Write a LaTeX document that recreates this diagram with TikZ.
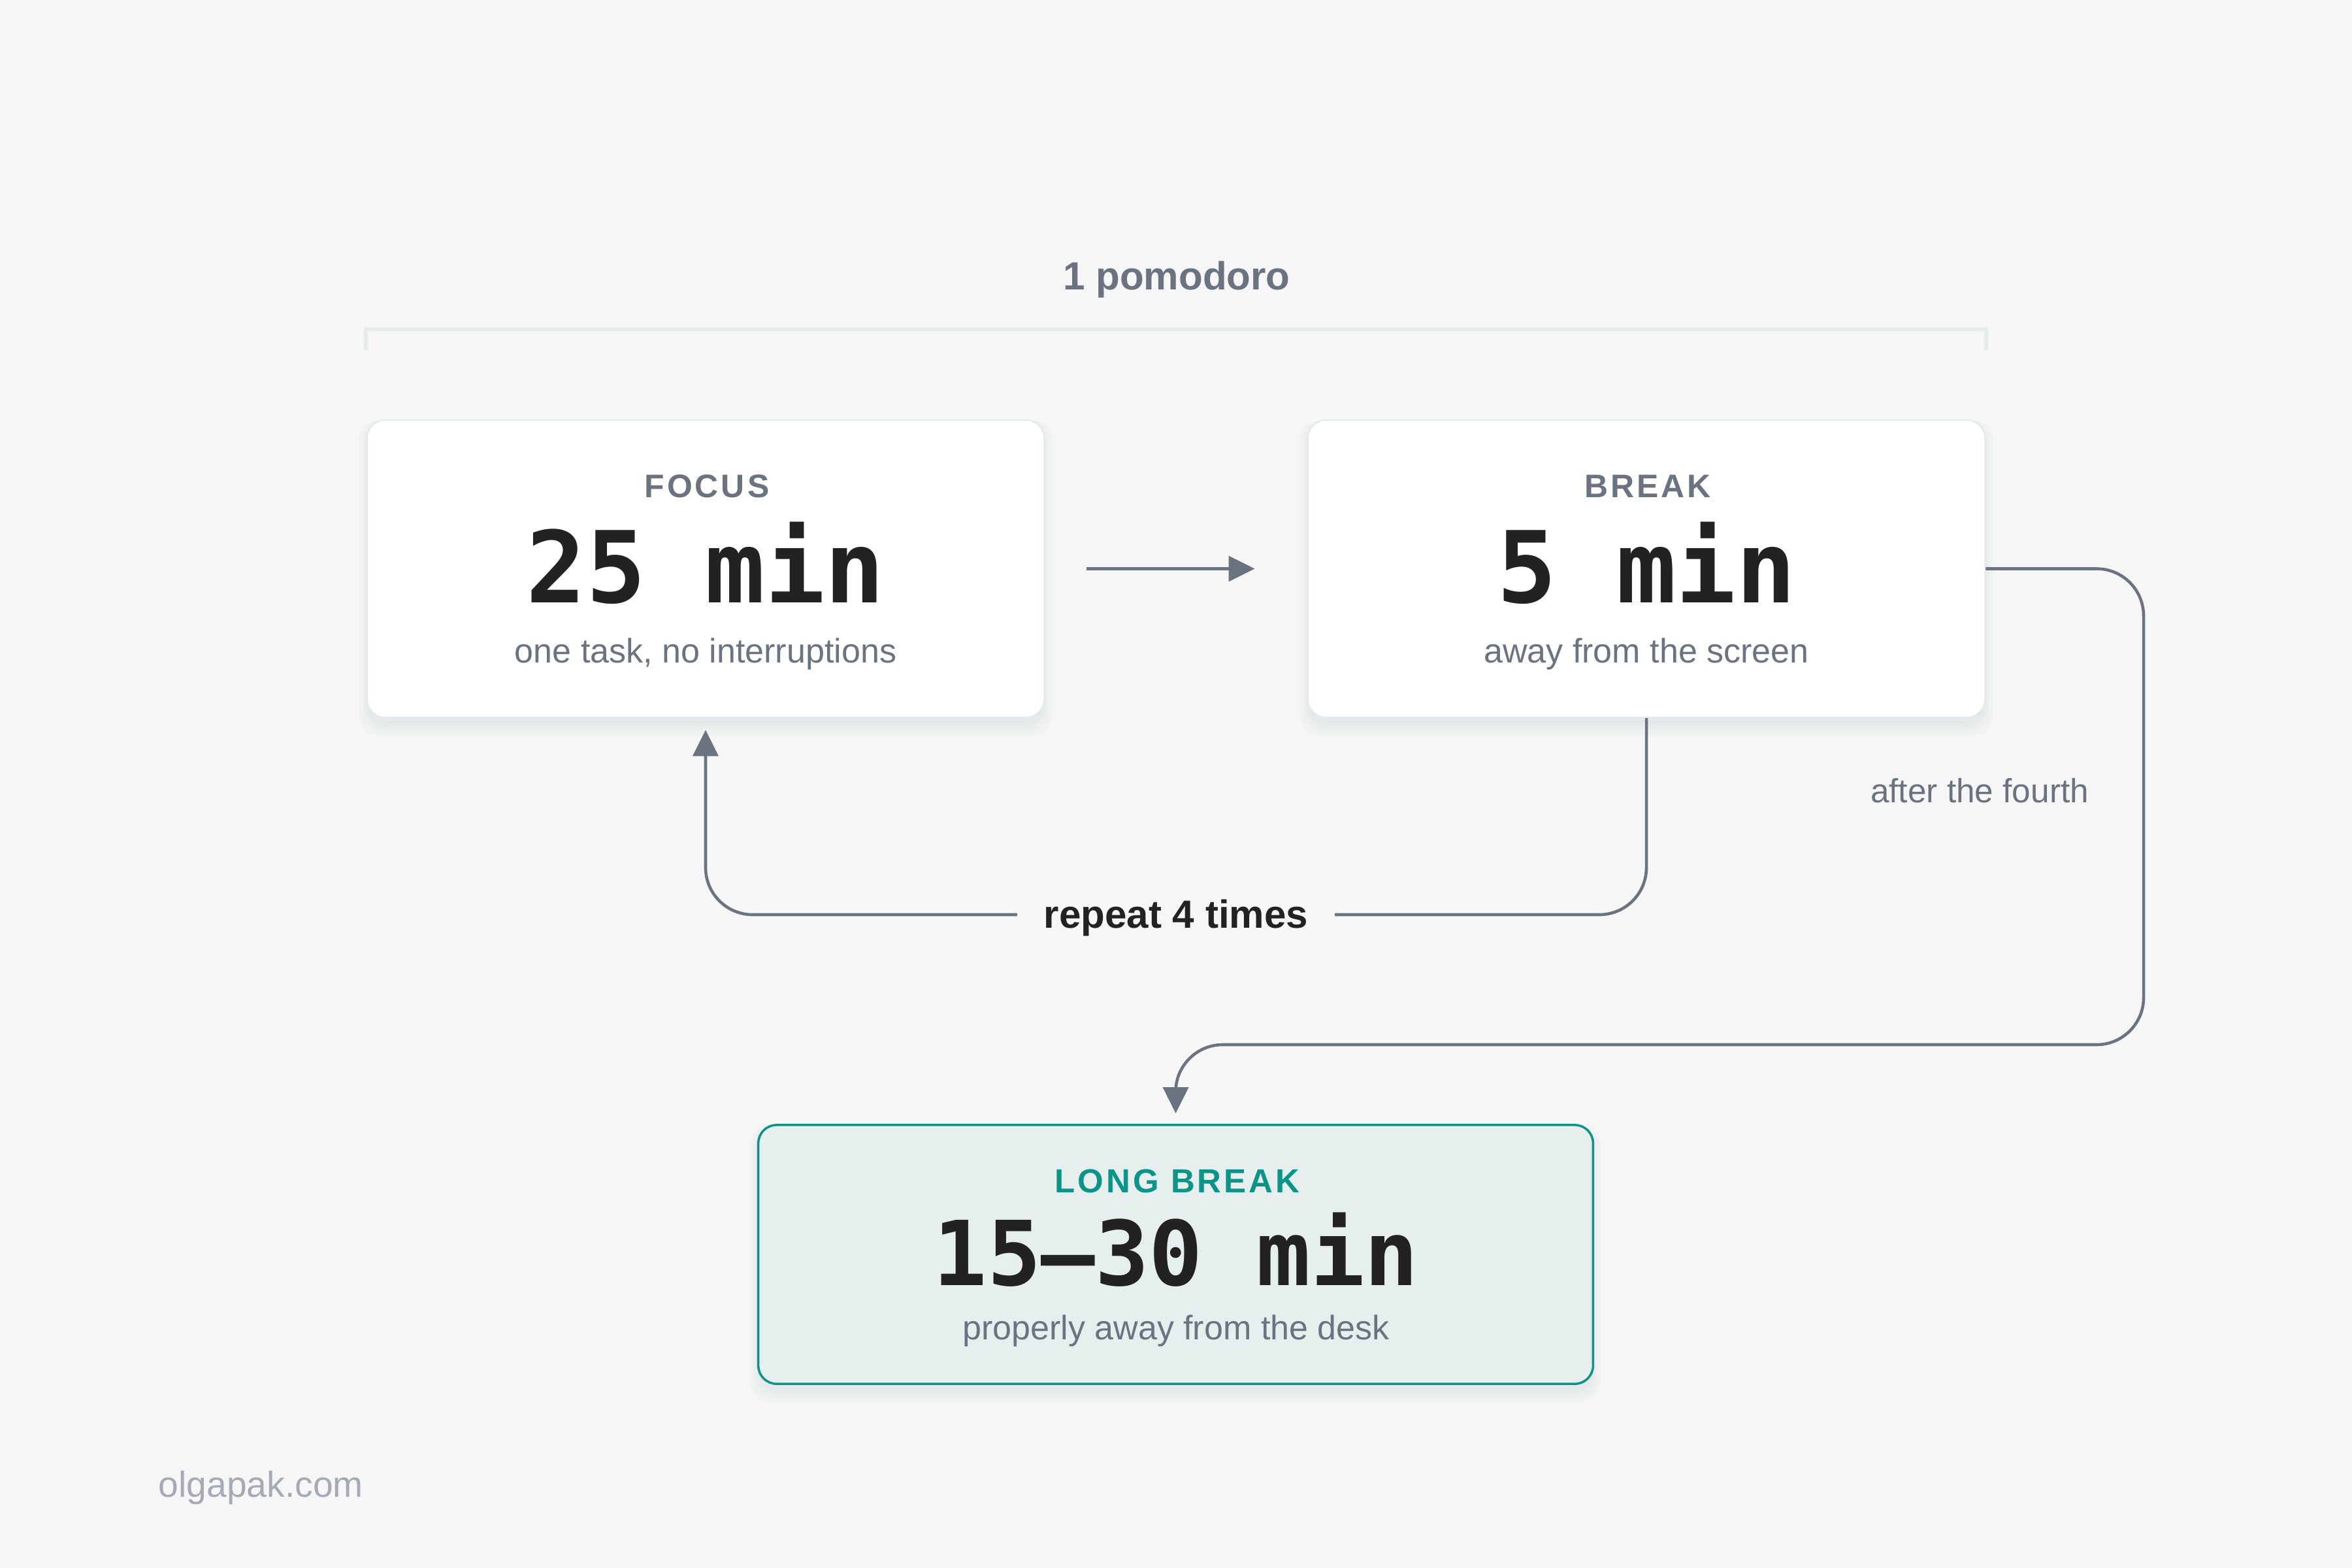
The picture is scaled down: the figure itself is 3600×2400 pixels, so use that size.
\documentclass[tikz,border=0pt]{standalone}
\usepackage{fontspec}
\setmainfont{Liberation Sans}
\newfontfamily\monofam{DejaVu Sans Mono}
\newfontfamily\capsfam{Liberation Sans}[LetterSpace=8]
\usetikzlibrary{arrows.meta}
\definecolor{bgcol}{HTML}{F6F6F6}
\definecolor{graytxt}{HTML}{6B7280}
\definecolor{darktxt}{HTML}{222222}
\definecolor{tealcol}{HTML}{0D9488}
\definecolor{longfill}{HTML}{E6EFED}
\definecolor{cardline}{HTML}{E2EBE9}
\definecolor{shadowcol}{HTML}{D3E2DF}
\definecolor{conncol}{HTML}{6B7280}
\definecolor{bracketcol}{HTML}{E3ECEA}
\definecolor{marktxt}{HTML}{A6ABB3}
\newcommand{\setfs}[1]{\fontsize{#1}{#1}\selectfont}
\newcommand{\softshadow}[4]{%
  \foreach \e in {2,5,9,14,20}{%
    \fill[shadowcol, opacity=0.13, rounded corners=0.3cm]
      (#1-\e*0.6, #2-\e*0.4+8) rectangle (#3+\e*0.6, #4+\e+8);
  }}
\begin{document}
\begin{tikzpicture}[x=0.01cm, y=-0.01cm,
  card/.style={draw=cardline, line width=0.6pt, fill=white, rounded corners=0.28cm,
    minimum width=10.36cm, minimum height=4.55cm, inner sep=0},
  longcard/.style={draw=tealcol, line width=1pt, fill=longfill, rounded corners=0.28cm,
    minimum width=12.77cm, minimum height=3.96cm, inner sep=0},
  conn/.style={draw=conncol, line width=1.3pt, -{Triangle[length=11.4pt,width=11pt]}},
  txt/.style={inner sep=0, anchor=base},
  capslbl/.style={txt, font=\capsfam\bfseries\setfs{14.2pt}},
  bigmin/.style={txt, text=darktxt, font=\monofam\bfseries\setfs{43.2pt}},
  sublbl/.style={txt, text=graytxt, font=\setfs{14.8pt}},
  boldlbl/.style={txt, font=\bfseries\setfs{17.1pt}}
]
\fill[bgcol] (0,0) rectangle (3600,2400);
\useasboundingbox (0,0) rectangle (3600,2400);

% bracket
\draw[bracketcol, line width=1.5pt] (560,536) -- (560,504) -- (3040,504) -- (3040,536);
\node[boldlbl, text=graytxt] (pomo) at (1801,443) {1 pomodoro};

% shadows
\softshadow{562}{643}{1598}{1098}
\softshadow{2002}{643}{3038}{1098}
\softshadow{1161}{1722}{2438}{2118}

% cards
\node[card] (focus) at (1080,870.5) {};
\node[card] (brk) at (2520,870.5) {};
\node[longcard] (long) at (1799.5,1920) {};

% card texts
\node[capslbl, text=graytxt] (focuslbl) at (1082,761) {FOCUS};
\node[bigmin] (focusmin) at (1080,922) {25 min};
\node[sublbl] (focussub) at (1080,1014) {one task, no interruptions};

\node[capslbl, text=graytxt] (brklbl) at (2522,761) {BREAK};
\node[bigmin] (brkmin) at (2520,922) {5 min};
\node[sublbl] (brksub) at (2520,1014) {away from the screen};

\node[capslbl, text=tealcol, font=\capsfam\bfseries\setfs{14.5pt}] (longlbl) at (1802,1825) {LONG BREAK};
\node[bigmin, font=\monofam\bfseries\setfs{39pt}] (longmin) at (1800,1967) {15–30 min};
\node[sublbl] (longsub) at (1800,2050) {properly away from the desk};

% connectors
\draw[conn, shorten <=0.64cm, shorten >=0.8cm] (focus.east) -- (brk.west);

\coordinate (rp) at (1800,1400);
\draw[conn, rounded corners=0.72cm, shorten >=0.18cm] (brk.south) |- (rp) -| (focus.south);
\node[boldlbl, text=darktxt, fill=bgcol, inner xsep=0.41cm, inner ysep=0.12cm] (rep) at (1800,1420) {repeat 4 times};

\coordinate (lp) at (3281,1599);
\draw[conn, rounded corners=0.72cm, shorten >=0.16cm] (brk.east) -| (lp) -| (long.north);
\node[sublbl, font=\setfs{14.6pt}] (after) at (3030,1228) {after the fourth};

% watermark
\node[inner sep=0, anchor=base west, text=marktxt, font=\setfs{15.7pt}] (mark) at (242,2291) {olgapak.com};
\end{tikzpicture}
\end{document}
